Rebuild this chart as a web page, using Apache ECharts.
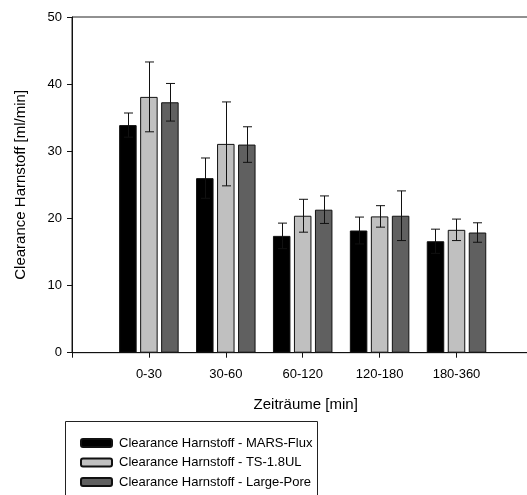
<!DOCTYPE html>
<html>
<head>
<meta charset="utf-8">
<script src="https://cdn.jsdelivr.net/npm/echarts@6/dist/echarts.min.js"></script>
<style>
  html, body { margin: 0; padding: 0; background: #fff; }
  #chart { width: 527px; height: 495px; }
</style>
</head>
<body>
<div id="chart"></div>
<script>
// Time windows on the x axis
const categories = ['0-30', '30-60', '60-120', '120-180', '180-360'];

// Urea clearance means [ml/min] and their standard deviations
const seriesNames = [
  'Clearance Harnstoff - MARS-Flux',
  'Clearance Harnstoff - TS-1.8UL',
  'Clearance Harnstoff - Large-Pore'
];
const marsFlux = [33.9, 26.0, 17.4, 18.2, 16.6];
const marsFluxErr = [1.8, 3.0, 1.9, 2.0, 1.8];
const ts18ul = [38.1, 31.1, 20.4, 20.3, 18.3];
const ts18ulErr = [5.2, 6.25, 2.45, 1.6, 1.6];
const largePore = [37.3, 31.0, 21.3, 20.4, 17.9];
const largePoreErr = [2.8, 2.65, 2.05, 3.7, 1.45];

const yTicks = [0, 10, 20, 30, 40, 50];

const FONT = 'Arial, "Liberation Sans", Helvetica, sans-serif';
const fills = ['#000000', '#c0c0c0', '#606060'];
const BAR_W = 17.5;
const BAR_GAP = 3.5;

const means = [marsFlux, ts18ul, largePore];
const errs = [marsFluxErr, ts18ulErr, largePoreErr];

// Bars sit on integer x positions 1..5 of a 0..6 value axis
function barData(vals) {
  return vals.map((v, i) => [i + 1, v]);
}
function errData(vals, e) {
  return vals.map((v, i) => [i + 1, v, e[i]]);
}

function errorRenderer(k) {
  const offset = (k - 1) * (BAR_W + BAR_GAP);
  return function (params, api) {
    const x = api.value(0), y = api.value(1), e = api.value(2);
    const hi = api.coord([x, y + e]);
    const lo = api.coord([x, y - e]);
    const cx = Math.round(hi[0] + offset) + 0.5;
    const half = 4.5;
    const st = { stroke: '#111', lineWidth: 1 };
    return {
      type: 'group',
      children: [
        { type: 'line', shape: { x1: cx, y1: hi[1], x2: cx, y2: lo[1] }, style: st },
        { type: 'line', shape: { x1: cx - half, y1: hi[1], x2: cx + half, y2: hi[1] }, style: st },
        { type: 'line', shape: { x1: cx - half, y1: lo[1], x2: cx + half, y2: lo[1] }, style: st }
      ]
    };
  };
}

const series = [];
means.forEach((vals, k) => {
  series.push({
    name: seriesNames[k],
    type: 'bar',
    data: barData(vals),
    barWidth: BAR_W,
    barGap: (BAR_GAP / BAR_W * 100) + '%',
    itemStyle: { color: fills[k], borderColor: '#111', borderWidth: 1 },
    emphasis: { disabled: true },
    z: 2
  });
});
means.forEach((vals, k) => {
  series.push({
    name: seriesNames[k] + ' SD',
    type: 'custom',
    data: errData(vals, errs[k]),
    renderItem: errorRenderer(k),
    encode: { x: 0, y: 1 },
    silent: true,
    z: 4
  });
});

const chart = echarts.init(document.getElementById('chart'), null, { renderer: 'canvas' });
chart.setOption({
  animation: false,
  backgroundColor: '#ffffff',
  textStyle: { fontFamily: FONT },
  grid: {
    left: 72,
    top: 17,
    bottom: 142.3,
    right: -6.4,
    containLabel: false,
    outerBoundsMode: 'none',
    show: true,
    borderColor: '#222',
    borderWidth: 1
  },
  legend: {
    data: seriesNames,
    orient: 'vertical',
    left: 80,
    top: 436,
    padding: 0,
    itemWidth: 31,
    itemHeight: 8,
    itemGap: 5.5,
    selectedMode: false,
    textStyle: { fontFamily: FONT, fontSize: 13, color: '#000', lineHeight: 14, padding: [0, 0, 0, 2] }
  },
  graphic: [{
    type: 'rect',
    shape: { x: 65.5, y: 421.5, width: 252, height: 90 },
    style: { fill: 'none', stroke: '#222', lineWidth: 1 },
    silent: true
  }],
  xAxis: {
    type: 'value',
    min: 0,
    max: 6,
    interval: 1,
    name: 'Zeiträume [min]',
    nameLocation: 'middle',
    nameGap: 45,
    nameTextStyle: { fontFamily: FONT, fontSize: 15, color: '#000', padding: [0, 0, 0, 6] },
    axisLine: { show: true, lineStyle: { color: '#111', width: 1 } },
    axisTick: { show: true, length: 5, lineStyle: { color: '#111' } },
    splitLine: { show: false },
    axisLabel: {
      fontFamily: FONT, fontSize: 13, color: '#000', margin: 15,
      formatter: v => categories[v - 1] || ''
    }
  },
  yAxis: {
    type: 'value',
    min: yTicks[0],
    max: yTicks[yTicks.length - 1],
    interval: 10,
    name: 'Clearance Harnstoff [ml/min]',
    nameLocation: 'middle',
    nameGap: 44,
    nameTextStyle: { fontFamily: FONT, fontSize: 15, color: '#000' },
    axisLine: { show: true, lineStyle: { color: '#111', width: 1 } },
    axisTick: { show: true, length: 5, lineStyle: { color: '#111' } },
    splitLine: { show: false },
    axisLabel: { fontFamily: FONT, fontSize: 13, color: '#000', margin: 10 }
  },
  series: series
});
</script>
</body>
</html>
